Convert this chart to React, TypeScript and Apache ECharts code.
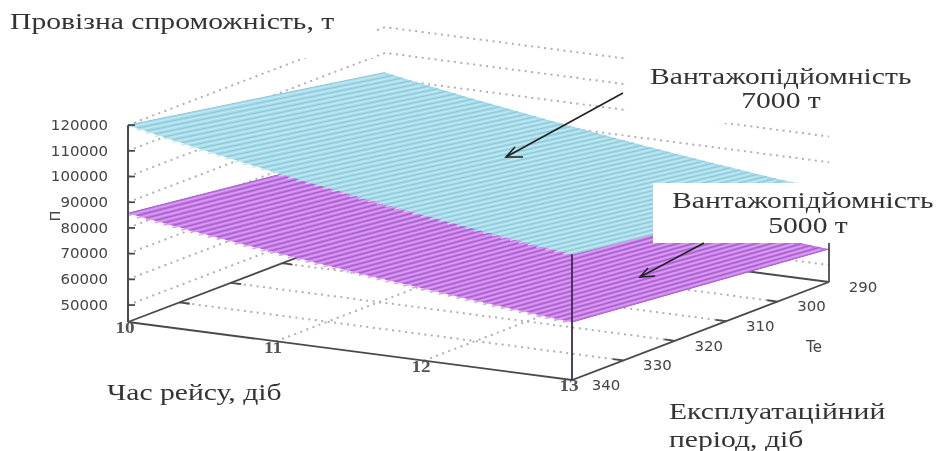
import React, { useEffect, useRef } from "react";
import * as echarts from "echarts";

const zTicks = [50000, 60000, 70000, 80000, 90000, 100000, 110000, 120000];
const tTicks = [10, 11, 12, 13];
const teTicks = [340, 330, 320, 310, 300, 290];

// Trip time rows of the mesh, days
const tRows = [10, 10.06, 10.12, 10.18, 10.24, 10.3, 10.36, 10.42, 10.48, 10.54, 10.6, 10.66, 10.72, 10.78, 10.84, 10.9, 10.96, 11.02, 11.08, 11.14, 11.2, 11.26, 11.32, 11.38, 11.44, 11.5, 11.56, 11.62, 11.68, 11.74, 11.8, 11.86, 11.92, 11.98, 12.04, 12.1, 12.16, 12.22, 12.28, 12.34, 12.4, 12.46, 12.52, 12.58, 12.64, 12.7, 12.76, 12.82, 12.88, 12.94, 13];
// Capacity 7000 t
const p7000Te340 = [120000, 119280, 118580, 117880, 117190, 116510, 115830, 115160, 114500, 113850, 113210, 112570, 111940, 111320, 110700, 110090, 109490, 108890, 108300, 107720, 107140, 106570, 106010, 105450, 104900, 104350, 103810, 103270, 102740, 102220, 101700, 101180, 100670, 100170, 99670, 99170, 98680, 98200, 97720, 97250, 96770, 96310, 95850, 95390, 94940, 94490, 94040, 93600, 93170, 92740, 92310];
const p7000Te290 = [102350, 101740, 101140, 100540, 99950, 99370, 98800, 98230, 97670, 97110, 96560, 96020, 95480, 94940, 94420, 93900, 93390, 92880, 92380, 91880, 91390, 90900, 90420, 89940, 89470, 89000, 88540, 88080, 87630, 87180, 86740, 86300, 85870, 85440, 85010, 84590, 84170, 83760, 83350, 82940, 82540, 82140, 81750, 81360, 80980, 80590, 80210, 79840, 79470, 79100, 78730];
// Capacity 5000 t
const p5000Te340 = [85710, 85200, 84700, 84200, 83710, 83220, 82740, 82260, 81790, 81320, 80860, 80410, 79960, 79510, 79070, 78640, 78210, 77780, 77360, 76940, 76530, 76120, 75720, 75320, 74930, 74530, 74150, 73760, 73390, 73010, 72640, 72270, 71910, 71550, 71190, 70840, 70490, 70140, 69800, 69460, 69120, 68790, 68460, 68140, 67810, 67490, 67170, 66860, 66550, 66240, 65930];
const p5000Te290 = [73110, 72670, 72240, 71810, 71390, 70980, 70570, 70160, 69760, 69360, 68970, 68590, 68200, 67810, 67440, 67070, 66710, 66340, 65990, 65630, 65280, 64930, 64590, 64240, 63910, 63570, 63240, 62910, 62590, 62270, 61960, 61640, 61340, 61030, 60720, 60420, 60120, 59830, 59540, 59240, 58960, 58670, 58390, 58110, 57840, 57560, 57290, 57030, 56760, 56500, 56240];

const Z_FLOOR = 43400;
const TE_FRONT = 340;
const TE_BACK = 290;

// Oblique view of (t, Te, P) onto the hidden plane axes of the chart
function project(t: number, te: number, p: number): [number, number] {
  const a = (t - 10) / 3;
  const b = (TE_FRONT - te) / 50;
  return [128 + a * 444 + b * 257, 322 + a * 58 - b * 98 - (p - Z_FLOOR) * 0.00257];
}

const AXIS = "#4a4a4a";
const DOT = "#b0b0b0";
const dotStyle = { stroke: DOT, lineWidth: 2, lineDash: [2, 4.5], fill: "none" };
const axisStyle = { stroke: AXIS, lineWidth: 1.8, fill: "none" };
const tickFont = { fontFamily: "DejaVu Sans", fontSize: 14, fill: "#444" };

function layer(draw: (c: (t: number, te: number, p: number) => number[]) => any[]) {
  return {
    type: "custom",
    silent: true,
    clip: false,
    data: [[0, 0]],
    renderItem: (_p: any, api: any) => ({
      type: "group",
      children: draw((t, te, p) => api.coord(project(t, te, p))),
    }),
  };
}

const poly = (pts: number[][], style: any) => ({ type: "polyline", shape: { points: pts }, style });
const label = (pt: number[], dx: number, dy: number, text: string, align: string, extra: any = {}, scaleX = 1.07) => ({
  type: "text",
  x: pt[0] + dx,
  y: pt[1] + dy,
  scaleX,
  style: { text, align, verticalAlign: "middle", ...tickFont, ...extra },
});

function gridLayer() {
  return layer((c) => {
    const out: any[] = [];
    zTicks.forEach((z) =>
      out.push(poly([c(10, TE_FRONT, z), c(10, TE_BACK, z), c(13, TE_BACK, z)], dotStyle)),
    );
    [11, 12].forEach((t) => out.push(poly([c(t, TE_FRONT, Z_FLOOR), c(t, TE_BACK, Z_FLOOR)], dotStyle)));
    [330, 320, 310, 300].forEach((te) => out.push(poly([c(10, te, Z_FLOOR), c(13, te, Z_FLOOR)], dotStyle)));
    // floor edges
    out.push(poly([c(10, TE_BACK, Z_FLOOR), c(13, TE_BACK, Z_FLOOR)], axisStyle));
    out.push(poly([c(10, TE_FRONT, Z_FLOOR), c(10, TE_BACK, Z_FLOOR)], axisStyle));
    out.push(poly([c(10, TE_FRONT, Z_FLOOR), c(13, TE_FRONT, Z_FLOOR), c(13, TE_BACK, Z_FLOOR)], axisStyle));
    [330, 320, 310, 300].forEach((te) => {
      out.push(poly([c(13, te, Z_FLOOR), c(12.93, te, Z_FLOOR)], axisStyle));
      out.push(poly([c(10, te, Z_FLOOR), c(10.07, te, Z_FLOOR)], axisStyle));
    });
    return out;
  });
}

function surfaceLayer(front: number[], back: number[], fill: string, light: string, dark: string, lightWidth: number) {
  return layer((c) => {
    const out: any[] = [];
    const f = tRows.map((t, i) => c(t, TE_FRONT, front[i]));
    const b = tRows.map((t, i) => c(t, TE_BACK, back[i]));
    out.push({
      type: "polygon",
      shape: { points: [...f, ...b.slice().reverse()] },
      style: { fill },
    });
    tRows.forEach((_t, i) => {
      if (i < tRows.length - 1) {
        out.push(
          poly([[f[i][0], f[i][1] + 2.2], [b[i][0], b[i][1] + 2.2]], { stroke: light, lineWidth: lightWidth, fill: "none" }),
        );
      }
      out.push(poly([f[i], b[i]], { stroke: dark, lineWidth: 1, fill: "none" }));
    });
    return out;
  });
}

function frameLayer() {
  return layer((c) => {
    const out: any[] = [];
    const top = zTicks[zTicks.length - 1];
    out.push(poly([c(10, TE_FRONT, Z_FLOOR), c(10, TE_FRONT, top)], { ...axisStyle, lineWidth: 2 }));
    zTicks.forEach((z) => {
      const p = c(10, TE_FRONT, z);
      out.push(poly([p, [p[0] + 7, p[1]]], axisStyle));
      out.push(label(p, -20, 0, String(z), "right"));
    });
    out.push(poly([c(13, TE_FRONT, Z_FLOOR), c(13, TE_FRONT, p7000Te340[p7000Te340.length - 1])], { ...axisStyle, stroke: "#3d2a50" }));
    out.push(poly([c(13, TE_BACK, Z_FLOOR), c(13, TE_BACK, p7000Te290[p7000Te290.length - 1])], axisStyle));
    tTicks.forEach((t) => {
      out.push(label(c(t, TE_FRONT, Z_FLOOR), -3, 6, String(t), "center", { fontFamily: "Liberation Serif", fontSize: 16, fontWeight: "bold", fill: "#555" }, 1.2));
    });
    teTicks.forEach((te) => {
      out.push(label(c(13, te, Z_FLOOR), 34, 5, String(te), "center"));
    });
    return out;
  });
}

const serif = { fontFamily: "Liberation Serif", fill: "#333", verticalAlign: "middle" };
const ann = (text: string, x: number, y: number, fontSize: number, scaleX = 1, align = "left") => ({
  type: "text",
  z: 101,
  x,
  y,
  scaleX,
  style: { text, fontSize, align, ...serif },
});
const whiteBox = (x: number, y: number, width: number, height: number) => ({
  type: "rect",
  z: 100,
  shape: { x, y, width, height },
  style: { fill: "#fff" },
});
const arrow = (from: number[], head: number[], b1: number[], b2: number[]) => [
  { type: "line", z: 102, shape: { x1: from[0], y1: from[1], x2: head[0], y2: head[1] }, style: { stroke: "#222", lineWidth: 1.6 } },
  { type: "polyline", z: 102, shape: { points: [b1, head, b2] }, style: { stroke: "#222", lineWidth: 1.6, fill: "none" } },
];

export default function App() {
  const ref = useRef<HTMLDivElement>(null);
  useEffect(() => {
    const chart = echarts.init(ref.current!, undefined, { renderer: "svg" });
    chart.setOption({
      animation: false,
      backgroundColor: "#fff",
      grid: { left: 0, right: 0, top: 0, bottom: 0 },
      xAxis: { type: "value", min: 0, max: 936, show: false },
      yAxis: { type: "value", min: 0, max: 451, inverse: true, show: false },
      series: [
        gridLayer(),
        surfaceLayer(p5000Te340, p5000Te290, "#c078e2", "#dc9af4", "#a45ec8", 1.6),
        surfaceLayer(p7000Te340, p7000Te290, "#a6dbe9", "#bfe9f2", "#8ec6d8", 1.3),
        frameLayer(),
      ],
      graphic: {
        elements: [
          whiteBox(0, 0, 373, 58),
          whiteBox(628, 45, 308, 78),
          whiteBox(653, 183, 283, 60),
          ann("Провізна спроможність, т", 10, 21, 24, 1.235),
          ann("Вантажопідйомність", 650, 76, 24, 1.235),
          ann("7000 т", 781, 100, 24, 1.235, "center"),
          ann("Вантажопідйомність", 672, 200, 24, 1.235),
          ann("5000 т", 808, 225, 24, 1.235, "center"),
          ann("Час рейсу, діб", 107, 392, 24, 1.235),
          ann("Експлуатаційний", 669, 411, 24, 1.235),
          ann("період, діб", 669, 439, 24, 1.235),
          { type: "text", z: 101, x: 814, y: 347, style: { text: "Te", align: "center", verticalAlign: "middle", ...tickFont, fontSize: 15 } },
          { type: "text", z: 101, x: 55, y: 216, rotation: Math.PI / 2, style: { text: "П", align: "center", verticalAlign: "middle", ...tickFont } },
          ...arrow([623, 93], [506, 157], [523, 157], [515, 147]),
          ...arrow([704, 243], [640, 277], [655, 276], [648, 268]),
        ],
      },
    });
    return () => chart.dispose();
  }, []);
  return <div ref={ref} style={{ position: "absolute", left: 0, top: 0, width: 936, height: 451, filter: "blur(0.5px)" }} />;
}
